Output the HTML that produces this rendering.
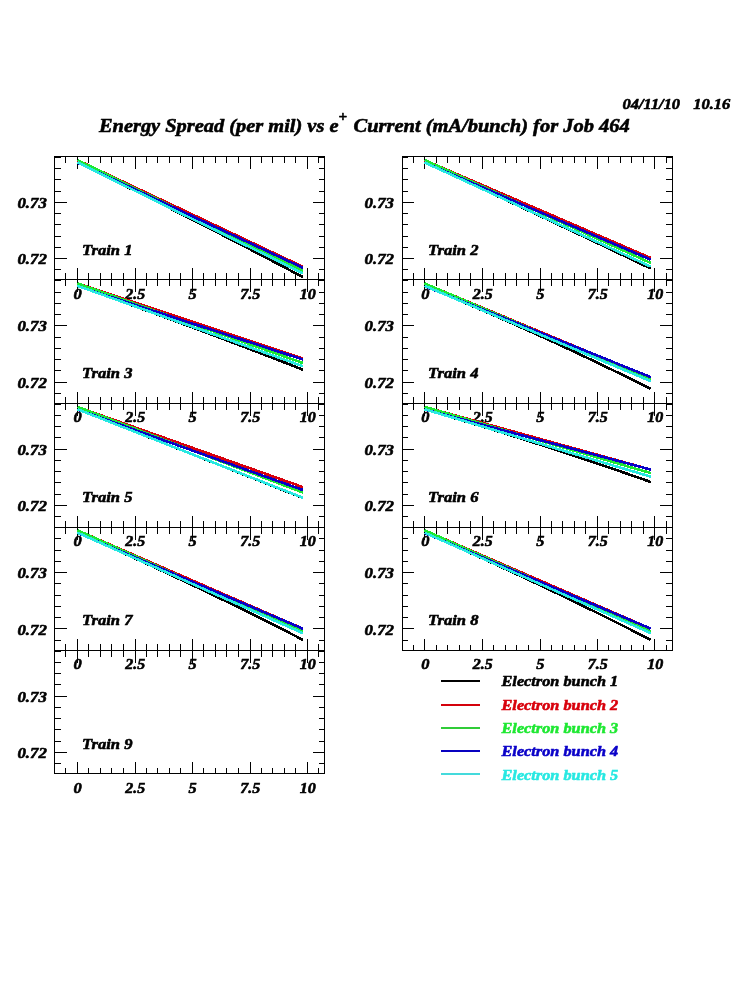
<!DOCTYPE html><html><head><meta charset="utf-8"><title>Energy Spread</title>
<style>html,body{margin:0;padding:0;background:#fff}body{width:750px;height:1000px;overflow:hidden}svg{display:block;will-change:transform;opacity:0.999}text{font-family:"Liberation Serif",serif;font-weight:bold;font-style:italic;fill:#000;stroke:#000;stroke-width:0.6px;stroke-linejoin:round}.t16{font-size:15.5px}.t20{font-size:19.7px}.t12{font-size:12px}</style></head><body>
<svg width="750" height="1000" viewBox="0 0 750 1000">
<rect width="750" height="1000" fill="#fff"/>
<g>
<text class="t16" text-anchor="end" x="46.8" y="207.9" textLength="29.4" lengthAdjust="spacingAndGlyphs">0.73</text>
<text class="t16" text-anchor="end" x="46.8" y="264.1" textLength="29.4" lengthAdjust="spacingAndGlyphs">0.72</text>
<text class="t16" x="82" y="254.8" textLength="50.5" lengthAdjust="spacingAndGlyphs">Train 1</text>
<text class="t16" text-anchor="middle" x="77.7" y="298.7" textLength="8.2" lengthAdjust="spacingAndGlyphs">0</text>
<text class="t16" text-anchor="middle" x="135.2" y="298.7" textLength="19.9" lengthAdjust="spacingAndGlyphs">2.5</text>
<text class="t16" text-anchor="middle" x="192.7" y="298.7" textLength="8.2" lengthAdjust="spacingAndGlyphs">5</text>
<text class="t16" text-anchor="middle" x="250.2" y="298.7" textLength="20.1" lengthAdjust="spacingAndGlyphs">7.5</text>
<text class="t16" text-anchor="middle" x="307.7" y="298.7" textLength="16.0" lengthAdjust="spacingAndGlyphs">10</text>
<text class="t16" text-anchor="end" x="394.0" y="207.9" textLength="29.4" lengthAdjust="spacingAndGlyphs">0.73</text>
<text class="t16" text-anchor="end" x="394.0" y="264.1" textLength="29.4" lengthAdjust="spacingAndGlyphs">0.72</text>
<text class="t16" x="428" y="254.8" textLength="50.5" lengthAdjust="spacingAndGlyphs">Train 2</text>
<text class="t16" text-anchor="middle" x="425.3" y="298.7" textLength="8.2" lengthAdjust="spacingAndGlyphs">0</text>
<text class="t16" text-anchor="middle" x="482.8" y="298.7" textLength="19.9" lengthAdjust="spacingAndGlyphs">2.5</text>
<text class="t16" text-anchor="middle" x="540.3" y="298.7" textLength="8.2" lengthAdjust="spacingAndGlyphs">5</text>
<text class="t16" text-anchor="middle" x="597.8" y="298.7" textLength="20.1" lengthAdjust="spacingAndGlyphs">7.5</text>
<text class="t16" text-anchor="middle" x="655.3" y="298.7" textLength="16.0" lengthAdjust="spacingAndGlyphs">10</text>
<text class="t16" text-anchor="end" x="46.8" y="331.4" textLength="29.4" lengthAdjust="spacingAndGlyphs">0.73</text>
<text class="t16" text-anchor="end" x="46.8" y="387.6" textLength="29.4" lengthAdjust="spacingAndGlyphs">0.72</text>
<text class="t16" x="82" y="378.2" textLength="50.5" lengthAdjust="spacingAndGlyphs">Train 3</text>
<text class="t16" text-anchor="middle" x="77.7" y="422.1" textLength="8.2" lengthAdjust="spacingAndGlyphs">0</text>
<text class="t16" text-anchor="middle" x="135.2" y="422.1" textLength="19.9" lengthAdjust="spacingAndGlyphs">2.5</text>
<text class="t16" text-anchor="middle" x="192.7" y="422.1" textLength="8.2" lengthAdjust="spacingAndGlyphs">5</text>
<text class="t16" text-anchor="middle" x="250.2" y="422.1" textLength="20.1" lengthAdjust="spacingAndGlyphs">7.5</text>
<text class="t16" text-anchor="middle" x="307.7" y="422.1" textLength="16.0" lengthAdjust="spacingAndGlyphs">10</text>
<text class="t16" text-anchor="end" x="394.0" y="331.4" textLength="29.4" lengthAdjust="spacingAndGlyphs">0.73</text>
<text class="t16" text-anchor="end" x="394.0" y="387.6" textLength="29.4" lengthAdjust="spacingAndGlyphs">0.72</text>
<text class="t16" x="428" y="378.2" textLength="50.5" lengthAdjust="spacingAndGlyphs">Train 4</text>
<text class="t16" text-anchor="middle" x="425.3" y="422.1" textLength="8.2" lengthAdjust="spacingAndGlyphs">0</text>
<text class="t16" text-anchor="middle" x="482.8" y="422.1" textLength="19.9" lengthAdjust="spacingAndGlyphs">2.5</text>
<text class="t16" text-anchor="middle" x="540.3" y="422.1" textLength="8.2" lengthAdjust="spacingAndGlyphs">5</text>
<text class="t16" text-anchor="middle" x="597.8" y="422.1" textLength="20.1" lengthAdjust="spacingAndGlyphs">7.5</text>
<text class="t16" text-anchor="middle" x="655.3" y="422.1" textLength="16.0" lengthAdjust="spacingAndGlyphs">10</text>
<text class="t16" text-anchor="end" x="46.8" y="454.8" textLength="29.4" lengthAdjust="spacingAndGlyphs">0.73</text>
<text class="t16" text-anchor="end" x="46.8" y="511.0" textLength="29.4" lengthAdjust="spacingAndGlyphs">0.72</text>
<text class="t16" x="82" y="501.7" textLength="50.5" lengthAdjust="spacingAndGlyphs">Train 5</text>
<text class="t16" text-anchor="middle" x="77.7" y="545.5" textLength="8.2" lengthAdjust="spacingAndGlyphs">0</text>
<text class="t16" text-anchor="middle" x="135.2" y="545.5" textLength="19.9" lengthAdjust="spacingAndGlyphs">2.5</text>
<text class="t16" text-anchor="middle" x="192.7" y="545.5" textLength="8.2" lengthAdjust="spacingAndGlyphs">5</text>
<text class="t16" text-anchor="middle" x="250.2" y="545.5" textLength="20.1" lengthAdjust="spacingAndGlyphs">7.5</text>
<text class="t16" text-anchor="middle" x="307.7" y="545.5" textLength="16.0" lengthAdjust="spacingAndGlyphs">10</text>
<text class="t16" text-anchor="end" x="394.0" y="454.8" textLength="29.4" lengthAdjust="spacingAndGlyphs">0.73</text>
<text class="t16" text-anchor="end" x="394.0" y="511.0" textLength="29.4" lengthAdjust="spacingAndGlyphs">0.72</text>
<text class="t16" x="428" y="501.7" textLength="50.5" lengthAdjust="spacingAndGlyphs">Train 6</text>
<text class="t16" text-anchor="middle" x="425.3" y="545.5" textLength="8.2" lengthAdjust="spacingAndGlyphs">0</text>
<text class="t16" text-anchor="middle" x="482.8" y="545.5" textLength="19.9" lengthAdjust="spacingAndGlyphs">2.5</text>
<text class="t16" text-anchor="middle" x="540.3" y="545.5" textLength="8.2" lengthAdjust="spacingAndGlyphs">5</text>
<text class="t16" text-anchor="middle" x="597.8" y="545.5" textLength="20.1" lengthAdjust="spacingAndGlyphs">7.5</text>
<text class="t16" text-anchor="middle" x="655.3" y="545.5" textLength="16.0" lengthAdjust="spacingAndGlyphs">10</text>
<text class="t16" text-anchor="end" x="46.8" y="578.2" textLength="29.4" lengthAdjust="spacingAndGlyphs">0.73</text>
<text class="t16" text-anchor="end" x="46.8" y="634.5" textLength="29.4" lengthAdjust="spacingAndGlyphs">0.72</text>
<text class="t16" x="82" y="625.1" textLength="50.5" lengthAdjust="spacingAndGlyphs">Train 7</text>
<text class="t16" text-anchor="middle" x="77.7" y="669.0" textLength="8.2" lengthAdjust="spacingAndGlyphs">0</text>
<text class="t16" text-anchor="middle" x="135.2" y="669.0" textLength="19.9" lengthAdjust="spacingAndGlyphs">2.5</text>
<text class="t16" text-anchor="middle" x="192.7" y="669.0" textLength="8.2" lengthAdjust="spacingAndGlyphs">5</text>
<text class="t16" text-anchor="middle" x="250.2" y="669.0" textLength="20.1" lengthAdjust="spacingAndGlyphs">7.5</text>
<text class="t16" text-anchor="middle" x="307.7" y="669.0" textLength="16.0" lengthAdjust="spacingAndGlyphs">10</text>
<text class="t16" text-anchor="end" x="394.0" y="578.2" textLength="29.4" lengthAdjust="spacingAndGlyphs">0.73</text>
<text class="t16" text-anchor="end" x="394.0" y="634.5" textLength="29.4" lengthAdjust="spacingAndGlyphs">0.72</text>
<text class="t16" x="428" y="625.1" textLength="50.5" lengthAdjust="spacingAndGlyphs">Train 8</text>
<text class="t16" text-anchor="middle" x="425.3" y="669.0" textLength="8.2" lengthAdjust="spacingAndGlyphs">0</text>
<text class="t16" text-anchor="middle" x="482.8" y="669.0" textLength="19.9" lengthAdjust="spacingAndGlyphs">2.5</text>
<text class="t16" text-anchor="middle" x="540.3" y="669.0" textLength="8.2" lengthAdjust="spacingAndGlyphs">5</text>
<text class="t16" text-anchor="middle" x="597.8" y="669.0" textLength="20.1" lengthAdjust="spacingAndGlyphs">7.5</text>
<text class="t16" text-anchor="middle" x="655.3" y="669.0" textLength="16.0" lengthAdjust="spacingAndGlyphs">10</text>
<text class="t16" text-anchor="end" x="46.8" y="701.7" textLength="29.4" lengthAdjust="spacingAndGlyphs">0.73</text>
<text class="t16" text-anchor="end" x="46.8" y="757.9" textLength="29.4" lengthAdjust="spacingAndGlyphs">0.72</text>
<text class="t16" x="82" y="748.6" textLength="50.5" lengthAdjust="spacingAndGlyphs">Train 9</text>
<text class="t16" text-anchor="middle" x="77.7" y="792.5" textLength="8.2" lengthAdjust="spacingAndGlyphs">0</text>
<text class="t16" text-anchor="middle" x="135.2" y="792.5" textLength="19.9" lengthAdjust="spacingAndGlyphs">2.5</text>
<text class="t16" text-anchor="middle" x="192.7" y="792.5" textLength="8.2" lengthAdjust="spacingAndGlyphs">5</text>
<text class="t16" text-anchor="middle" x="250.2" y="792.5" textLength="20.1" lengthAdjust="spacingAndGlyphs">7.5</text>
<text class="t16" text-anchor="middle" x="307.7" y="792.5" textLength="16.0" lengthAdjust="spacingAndGlyphs">10</text>
</g>
<g shape-rendering="crispEdges">
<rect x="54" y="156" width="271" height="1" fill="#000"/>
<rect x="54" y="279" width="271" height="1" fill="#000"/>
<rect x="54" y="156" width="1" height="124" fill="#000"/>
<rect x="324" y="156" width="1" height="124" fill="#000"/>
<rect x="54" y="157" width="7" height="1" fill="#000"/>
<rect x="319" y="157" width="6" height="1" fill="#000"/>
<rect x="54" y="168" width="7" height="1" fill="#000"/>
<rect x="319" y="168" width="6" height="1" fill="#000"/>
<rect x="54" y="179" width="7" height="1" fill="#000"/>
<rect x="319" y="179" width="6" height="1" fill="#000"/>
<rect x="54" y="191" width="7" height="1" fill="#000"/>
<rect x="319" y="191" width="6" height="1" fill="#000"/>
<rect x="54" y="202" width="13" height="1" fill="#000"/>
<rect x="313" y="202" width="12" height="1" fill="#000"/>
<rect x="54" y="213" width="7" height="1" fill="#000"/>
<rect x="319" y="213" width="6" height="1" fill="#000"/>
<rect x="54" y="224" width="7" height="1" fill="#000"/>
<rect x="319" y="224" width="6" height="1" fill="#000"/>
<rect x="54" y="236" width="7" height="1" fill="#000"/>
<rect x="319" y="236" width="6" height="1" fill="#000"/>
<rect x="54" y="247" width="7" height="1" fill="#000"/>
<rect x="319" y="247" width="6" height="1" fill="#000"/>
<rect x="54" y="258" width="13" height="1" fill="#000"/>
<rect x="313" y="258" width="12" height="1" fill="#000"/>
<rect x="54" y="269" width="7" height="1" fill="#000"/>
<rect x="319" y="269" width="6" height="1" fill="#000"/>
<rect x="65" y="156" width="1" height="7" fill="#000"/>
<rect x="65" y="273" width="1" height="7" fill="#000"/>
<rect x="77" y="156" width="1" height="13" fill="#000"/>
<rect x="77" y="268" width="1" height="12" fill="#000"/>
<rect x="88" y="156" width="1" height="7" fill="#000"/>
<rect x="88" y="273" width="1" height="7" fill="#000"/>
<rect x="100" y="156" width="1" height="7" fill="#000"/>
<rect x="100" y="273" width="1" height="7" fill="#000"/>
<rect x="111" y="156" width="1" height="7" fill="#000"/>
<rect x="111" y="273" width="1" height="7" fill="#000"/>
<rect x="123" y="156" width="1" height="7" fill="#000"/>
<rect x="123" y="273" width="1" height="7" fill="#000"/>
<rect x="135" y="156" width="1" height="13" fill="#000"/>
<rect x="135" y="268" width="1" height="12" fill="#000"/>
<rect x="146" y="156" width="1" height="7" fill="#000"/>
<rect x="146" y="273" width="1" height="7" fill="#000"/>
<rect x="157" y="156" width="1" height="7" fill="#000"/>
<rect x="157" y="273" width="1" height="7" fill="#000"/>
<rect x="169" y="156" width="1" height="7" fill="#000"/>
<rect x="169" y="273" width="1" height="7" fill="#000"/>
<rect x="180" y="156" width="1" height="7" fill="#000"/>
<rect x="180" y="273" width="1" height="7" fill="#000"/>
<rect x="192" y="156" width="1" height="13" fill="#000"/>
<rect x="192" y="268" width="1" height="12" fill="#000"/>
<rect x="203" y="156" width="1" height="7" fill="#000"/>
<rect x="203" y="273" width="1" height="7" fill="#000"/>
<rect x="215" y="156" width="1" height="7" fill="#000"/>
<rect x="215" y="273" width="1" height="7" fill="#000"/>
<rect x="226" y="156" width="1" height="7" fill="#000"/>
<rect x="226" y="273" width="1" height="7" fill="#000"/>
<rect x="238" y="156" width="1" height="7" fill="#000"/>
<rect x="238" y="273" width="1" height="7" fill="#000"/>
<rect x="250" y="156" width="1" height="13" fill="#000"/>
<rect x="250" y="268" width="1" height="12" fill="#000"/>
<rect x="261" y="156" width="1" height="7" fill="#000"/>
<rect x="261" y="273" width="1" height="7" fill="#000"/>
<rect x="272" y="156" width="1" height="7" fill="#000"/>
<rect x="272" y="273" width="1" height="7" fill="#000"/>
<rect x="284" y="156" width="1" height="7" fill="#000"/>
<rect x="284" y="273" width="1" height="7" fill="#000"/>
<rect x="295" y="156" width="1" height="7" fill="#000"/>
<rect x="295" y="273" width="1" height="7" fill="#000"/>
<rect x="307" y="156" width="1" height="13" fill="#000"/>
<rect x="307" y="268" width="1" height="12" fill="#000"/>
<rect x="318" y="156" width="1" height="7" fill="#000"/>
<rect x="318" y="273" width="1" height="7" fill="#000"/>
<polyline points="77.40,162.40 111.22,179.03 130.39,188.50 149.56,198.04 168.73,207.66 187.89,217.35 207.06,227.12 226.23,236.96 245.40,246.88 264.56,256.88 283.73,266.95 302.90,277.10" fill="none" stroke="#000000" stroke-width="2.6"/>
<line x1="77.4" y1="160.1" x2="302.9" y2="266.8" stroke="#d8000c" stroke-width="2.6"/>
<line x1="77.4" y1="160.0" x2="302.9" y2="270.8" stroke="#1ee832" stroke-width="2.6"/>
<line x1="77.4" y1="162.6" x2="302.9" y2="267.8" stroke="#0a00c8" stroke-width="2.6"/>
<line x1="77.4" y1="162.4" x2="302.9" y2="273.3" stroke="#28e8e2" stroke-width="2.6"/>
<rect x="402" y="156" width="271" height="1" fill="#000"/>
<rect x="402" y="279" width="271" height="1" fill="#000"/>
<rect x="402" y="156" width="1" height="124" fill="#000"/>
<rect x="672" y="156" width="1" height="124" fill="#000"/>
<rect x="402" y="157" width="6" height="1" fill="#000"/>
<rect x="666" y="157" width="7" height="1" fill="#000"/>
<rect x="402" y="168" width="6" height="1" fill="#000"/>
<rect x="666" y="168" width="7" height="1" fill="#000"/>
<rect x="402" y="179" width="6" height="1" fill="#000"/>
<rect x="666" y="179" width="7" height="1" fill="#000"/>
<rect x="402" y="191" width="6" height="1" fill="#000"/>
<rect x="666" y="191" width="7" height="1" fill="#000"/>
<rect x="402" y="202" width="12" height="1" fill="#000"/>
<rect x="660" y="202" width="13" height="1" fill="#000"/>
<rect x="402" y="213" width="6" height="1" fill="#000"/>
<rect x="666" y="213" width="7" height="1" fill="#000"/>
<rect x="402" y="224" width="6" height="1" fill="#000"/>
<rect x="666" y="224" width="7" height="1" fill="#000"/>
<rect x="402" y="236" width="6" height="1" fill="#000"/>
<rect x="666" y="236" width="7" height="1" fill="#000"/>
<rect x="402" y="247" width="6" height="1" fill="#000"/>
<rect x="666" y="247" width="7" height="1" fill="#000"/>
<rect x="402" y="258" width="12" height="1" fill="#000"/>
<rect x="660" y="258" width="13" height="1" fill="#000"/>
<rect x="402" y="269" width="6" height="1" fill="#000"/>
<rect x="666" y="269" width="7" height="1" fill="#000"/>
<rect x="413" y="156" width="1" height="7" fill="#000"/>
<rect x="413" y="273" width="1" height="7" fill="#000"/>
<rect x="424" y="156" width="1" height="13" fill="#000"/>
<rect x="424" y="268" width="1" height="12" fill="#000"/>
<rect x="436" y="156" width="1" height="7" fill="#000"/>
<rect x="436" y="273" width="1" height="7" fill="#000"/>
<rect x="447" y="156" width="1" height="7" fill="#000"/>
<rect x="447" y="273" width="1" height="7" fill="#000"/>
<rect x="459" y="156" width="1" height="7" fill="#000"/>
<rect x="459" y="273" width="1" height="7" fill="#000"/>
<rect x="470" y="156" width="1" height="7" fill="#000"/>
<rect x="470" y="273" width="1" height="7" fill="#000"/>
<rect x="482" y="156" width="1" height="13" fill="#000"/>
<rect x="482" y="268" width="1" height="12" fill="#000"/>
<rect x="493" y="156" width="1" height="7" fill="#000"/>
<rect x="493" y="273" width="1" height="7" fill="#000"/>
<rect x="505" y="156" width="1" height="7" fill="#000"/>
<rect x="505" y="273" width="1" height="7" fill="#000"/>
<rect x="516" y="156" width="1" height="7" fill="#000"/>
<rect x="516" y="273" width="1" height="7" fill="#000"/>
<rect x="528" y="156" width="1" height="7" fill="#000"/>
<rect x="528" y="273" width="1" height="7" fill="#000"/>
<rect x="540" y="156" width="1" height="13" fill="#000"/>
<rect x="540" y="268" width="1" height="12" fill="#000"/>
<rect x="551" y="156" width="1" height="7" fill="#000"/>
<rect x="551" y="273" width="1" height="7" fill="#000"/>
<rect x="562" y="156" width="1" height="7" fill="#000"/>
<rect x="562" y="273" width="1" height="7" fill="#000"/>
<rect x="574" y="156" width="1" height="7" fill="#000"/>
<rect x="574" y="273" width="1" height="7" fill="#000"/>
<rect x="585" y="156" width="1" height="7" fill="#000"/>
<rect x="585" y="273" width="1" height="7" fill="#000"/>
<rect x="597" y="156" width="1" height="13" fill="#000"/>
<rect x="597" y="268" width="1" height="12" fill="#000"/>
<rect x="608" y="156" width="1" height="7" fill="#000"/>
<rect x="608" y="273" width="1" height="7" fill="#000"/>
<rect x="620" y="156" width="1" height="7" fill="#000"/>
<rect x="620" y="273" width="1" height="7" fill="#000"/>
<rect x="631" y="156" width="1" height="7" fill="#000"/>
<rect x="631" y="273" width="1" height="7" fill="#000"/>
<rect x="643" y="156" width="1" height="7" fill="#000"/>
<rect x="643" y="273" width="1" height="7" fill="#000"/>
<rect x="654" y="156" width="1" height="13" fill="#000"/>
<rect x="654" y="268" width="1" height="12" fill="#000"/>
<rect x="666" y="156" width="1" height="7" fill="#000"/>
<rect x="666" y="273" width="1" height="7" fill="#000"/>
<polyline points="424.50,162.40 458.44,178.03 477.68,186.91 496.92,195.82 516.15,204.78 535.39,213.78 554.62,222.81 573.86,231.89 593.09,241.01 612.33,250.17 631.56,259.36 650.80,268.60" fill="none" stroke="#000000" stroke-width="2.6"/>
<line x1="424.5" y1="160.1" x2="650.8" y2="258.0" stroke="#d8000c" stroke-width="2.6"/>
<line x1="424.5" y1="160.0" x2="650.8" y2="263.0" stroke="#1ee832" stroke-width="2.6"/>
<line x1="424.5" y1="162.6" x2="650.8" y2="259.7" stroke="#0a00c8" stroke-width="2.6"/>
<line x1="424.5" y1="162.4" x2="650.8" y2="266.6" stroke="#28e8e2" stroke-width="2.6"/>
<rect x="54" y="279" width="271" height="1" fill="#000"/>
<rect x="54" y="403" width="271" height="1" fill="#000"/>
<rect x="54" y="279" width="1" height="125" fill="#000"/>
<rect x="324" y="279" width="1" height="125" fill="#000"/>
<rect x="54" y="280" width="7" height="1" fill="#000"/>
<rect x="319" y="280" width="6" height="1" fill="#000"/>
<rect x="54" y="292" width="7" height="1" fill="#000"/>
<rect x="319" y="292" width="6" height="1" fill="#000"/>
<rect x="54" y="303" width="7" height="1" fill="#000"/>
<rect x="319" y="303" width="6" height="1" fill="#000"/>
<rect x="54" y="314" width="7" height="1" fill="#000"/>
<rect x="319" y="314" width="6" height="1" fill="#000"/>
<rect x="54" y="325" width="13" height="1" fill="#000"/>
<rect x="313" y="325" width="12" height="1" fill="#000"/>
<rect x="54" y="337" width="7" height="1" fill="#000"/>
<rect x="319" y="337" width="6" height="1" fill="#000"/>
<rect x="54" y="348" width="7" height="1" fill="#000"/>
<rect x="319" y="348" width="6" height="1" fill="#000"/>
<rect x="54" y="359" width="7" height="1" fill="#000"/>
<rect x="319" y="359" width="6" height="1" fill="#000"/>
<rect x="54" y="370" width="7" height="1" fill="#000"/>
<rect x="319" y="370" width="6" height="1" fill="#000"/>
<rect x="54" y="382" width="13" height="1" fill="#000"/>
<rect x="313" y="382" width="12" height="1" fill="#000"/>
<rect x="54" y="393" width="7" height="1" fill="#000"/>
<rect x="319" y="393" width="6" height="1" fill="#000"/>
<rect x="65" y="279" width="1" height="7" fill="#000"/>
<rect x="65" y="397" width="1" height="7" fill="#000"/>
<rect x="77" y="279" width="1" height="13" fill="#000"/>
<rect x="77" y="392" width="1" height="12" fill="#000"/>
<rect x="88" y="279" width="1" height="7" fill="#000"/>
<rect x="88" y="397" width="1" height="7" fill="#000"/>
<rect x="100" y="279" width="1" height="7" fill="#000"/>
<rect x="100" y="397" width="1" height="7" fill="#000"/>
<rect x="111" y="279" width="1" height="7" fill="#000"/>
<rect x="111" y="397" width="1" height="7" fill="#000"/>
<rect x="123" y="279" width="1" height="7" fill="#000"/>
<rect x="123" y="397" width="1" height="7" fill="#000"/>
<rect x="135" y="279" width="1" height="13" fill="#000"/>
<rect x="135" y="392" width="1" height="12" fill="#000"/>
<rect x="146" y="279" width="1" height="7" fill="#000"/>
<rect x="146" y="397" width="1" height="7" fill="#000"/>
<rect x="157" y="279" width="1" height="7" fill="#000"/>
<rect x="157" y="397" width="1" height="7" fill="#000"/>
<rect x="169" y="279" width="1" height="7" fill="#000"/>
<rect x="169" y="397" width="1" height="7" fill="#000"/>
<rect x="180" y="279" width="1" height="7" fill="#000"/>
<rect x="180" y="397" width="1" height="7" fill="#000"/>
<rect x="192" y="279" width="1" height="13" fill="#000"/>
<rect x="192" y="392" width="1" height="12" fill="#000"/>
<rect x="203" y="279" width="1" height="7" fill="#000"/>
<rect x="203" y="397" width="1" height="7" fill="#000"/>
<rect x="215" y="279" width="1" height="7" fill="#000"/>
<rect x="215" y="397" width="1" height="7" fill="#000"/>
<rect x="226" y="279" width="1" height="7" fill="#000"/>
<rect x="226" y="397" width="1" height="7" fill="#000"/>
<rect x="238" y="279" width="1" height="7" fill="#000"/>
<rect x="238" y="397" width="1" height="7" fill="#000"/>
<rect x="250" y="279" width="1" height="13" fill="#000"/>
<rect x="250" y="392" width="1" height="12" fill="#000"/>
<rect x="261" y="279" width="1" height="7" fill="#000"/>
<rect x="261" y="397" width="1" height="7" fill="#000"/>
<rect x="272" y="279" width="1" height="7" fill="#000"/>
<rect x="272" y="397" width="1" height="7" fill="#000"/>
<rect x="284" y="279" width="1" height="7" fill="#000"/>
<rect x="284" y="397" width="1" height="7" fill="#000"/>
<rect x="295" y="279" width="1" height="7" fill="#000"/>
<rect x="295" y="397" width="1" height="7" fill="#000"/>
<rect x="307" y="279" width="1" height="13" fill="#000"/>
<rect x="307" y="392" width="1" height="12" fill="#000"/>
<rect x="318" y="279" width="1" height="7" fill="#000"/>
<rect x="318" y="397" width="1" height="7" fill="#000"/>
<polyline points="77.40,285.80 111.22,297.86 130.39,304.73 149.56,311.67 168.73,318.68 187.89,325.76 207.06,332.91 226.23,340.12 245.40,347.41 264.56,354.77 283.73,362.20 302.90,369.70" fill="none" stroke="#000000" stroke-width="2.6"/>
<line x1="77.4" y1="283.5" x2="302.9" y2="358.4" stroke="#d8000c" stroke-width="2.6"/>
<line x1="77.4" y1="283.4" x2="302.9" y2="363.0" stroke="#1ee832" stroke-width="2.6"/>
<line x1="77.4" y1="286.1" x2="302.9" y2="359.5" stroke="#0a00c8" stroke-width="2.6"/>
<line x1="77.4" y1="285.8" x2="302.9" y2="366.2" stroke="#28e8e2" stroke-width="2.6"/>
<rect x="402" y="279" width="271" height="1" fill="#000"/>
<rect x="402" y="403" width="271" height="1" fill="#000"/>
<rect x="402" y="279" width="1" height="125" fill="#000"/>
<rect x="672" y="279" width="1" height="125" fill="#000"/>
<rect x="402" y="280" width="6" height="1" fill="#000"/>
<rect x="666" y="280" width="7" height="1" fill="#000"/>
<rect x="402" y="292" width="6" height="1" fill="#000"/>
<rect x="666" y="292" width="7" height="1" fill="#000"/>
<rect x="402" y="303" width="6" height="1" fill="#000"/>
<rect x="666" y="303" width="7" height="1" fill="#000"/>
<rect x="402" y="314" width="6" height="1" fill="#000"/>
<rect x="666" y="314" width="7" height="1" fill="#000"/>
<rect x="402" y="325" width="12" height="1" fill="#000"/>
<rect x="660" y="325" width="13" height="1" fill="#000"/>
<rect x="402" y="337" width="6" height="1" fill="#000"/>
<rect x="666" y="337" width="7" height="1" fill="#000"/>
<rect x="402" y="348" width="6" height="1" fill="#000"/>
<rect x="666" y="348" width="7" height="1" fill="#000"/>
<rect x="402" y="359" width="6" height="1" fill="#000"/>
<rect x="666" y="359" width="7" height="1" fill="#000"/>
<rect x="402" y="370" width="6" height="1" fill="#000"/>
<rect x="666" y="370" width="7" height="1" fill="#000"/>
<rect x="402" y="382" width="12" height="1" fill="#000"/>
<rect x="660" y="382" width="13" height="1" fill="#000"/>
<rect x="402" y="393" width="6" height="1" fill="#000"/>
<rect x="666" y="393" width="7" height="1" fill="#000"/>
<rect x="413" y="279" width="1" height="7" fill="#000"/>
<rect x="413" y="397" width="1" height="7" fill="#000"/>
<rect x="424" y="279" width="1" height="13" fill="#000"/>
<rect x="424" y="392" width="1" height="12" fill="#000"/>
<rect x="436" y="279" width="1" height="7" fill="#000"/>
<rect x="436" y="397" width="1" height="7" fill="#000"/>
<rect x="447" y="279" width="1" height="7" fill="#000"/>
<rect x="447" y="397" width="1" height="7" fill="#000"/>
<rect x="459" y="279" width="1" height="7" fill="#000"/>
<rect x="459" y="397" width="1" height="7" fill="#000"/>
<rect x="470" y="279" width="1" height="7" fill="#000"/>
<rect x="470" y="397" width="1" height="7" fill="#000"/>
<rect x="482" y="279" width="1" height="13" fill="#000"/>
<rect x="482" y="392" width="1" height="12" fill="#000"/>
<rect x="493" y="279" width="1" height="7" fill="#000"/>
<rect x="493" y="397" width="1" height="7" fill="#000"/>
<rect x="505" y="279" width="1" height="7" fill="#000"/>
<rect x="505" y="397" width="1" height="7" fill="#000"/>
<rect x="516" y="279" width="1" height="7" fill="#000"/>
<rect x="516" y="397" width="1" height="7" fill="#000"/>
<rect x="528" y="279" width="1" height="7" fill="#000"/>
<rect x="528" y="397" width="1" height="7" fill="#000"/>
<rect x="540" y="279" width="1" height="13" fill="#000"/>
<rect x="540" y="392" width="1" height="12" fill="#000"/>
<rect x="551" y="279" width="1" height="7" fill="#000"/>
<rect x="551" y="397" width="1" height="7" fill="#000"/>
<rect x="562" y="279" width="1" height="7" fill="#000"/>
<rect x="562" y="397" width="1" height="7" fill="#000"/>
<rect x="574" y="279" width="1" height="7" fill="#000"/>
<rect x="574" y="397" width="1" height="7" fill="#000"/>
<rect x="585" y="279" width="1" height="7" fill="#000"/>
<rect x="585" y="397" width="1" height="7" fill="#000"/>
<rect x="597" y="279" width="1" height="13" fill="#000"/>
<rect x="597" y="392" width="1" height="12" fill="#000"/>
<rect x="608" y="279" width="1" height="7" fill="#000"/>
<rect x="608" y="397" width="1" height="7" fill="#000"/>
<rect x="620" y="279" width="1" height="7" fill="#000"/>
<rect x="620" y="397" width="1" height="7" fill="#000"/>
<rect x="631" y="279" width="1" height="7" fill="#000"/>
<rect x="631" y="397" width="1" height="7" fill="#000"/>
<rect x="643" y="279" width="1" height="7" fill="#000"/>
<rect x="643" y="397" width="1" height="7" fill="#000"/>
<rect x="654" y="279" width="1" height="13" fill="#000"/>
<rect x="654" y="392" width="1" height="12" fill="#000"/>
<rect x="666" y="279" width="1" height="7" fill="#000"/>
<rect x="666" y="397" width="1" height="7" fill="#000"/>
<polyline points="424.50,285.80 458.44,300.11 477.68,308.30 496.92,316.64 516.15,325.13 535.39,333.78 554.62,342.58 573.86,351.54 593.09,360.65 612.33,369.91 631.56,379.33 650.80,388.90" fill="none" stroke="#000000" stroke-width="2.6"/>
<line x1="424.5" y1="283.5" x2="650.8" y2="378.0" stroke="#d8000c" stroke-width="2.6"/>
<line x1="424.5" y1="283.4" x2="650.8" y2="379.8" stroke="#1ee832" stroke-width="2.6"/>
<line x1="424.5" y1="286.1" x2="650.8" y2="377.1" stroke="#0a00c8" stroke-width="2.6"/>
<line x1="424.5" y1="285.8" x2="650.8" y2="381.2" stroke="#28e8e2" stroke-width="2.6"/>
<rect x="54" y="403" width="271" height="1" fill="#000"/>
<rect x="54" y="527" width="271" height="1" fill="#000"/>
<rect x="54" y="403" width="1" height="125" fill="#000"/>
<rect x="324" y="403" width="1" height="125" fill="#000"/>
<rect x="54" y="404" width="7" height="1" fill="#000"/>
<rect x="319" y="404" width="6" height="1" fill="#000"/>
<rect x="54" y="415" width="7" height="1" fill="#000"/>
<rect x="319" y="415" width="6" height="1" fill="#000"/>
<rect x="54" y="426" width="7" height="1" fill="#000"/>
<rect x="319" y="426" width="6" height="1" fill="#000"/>
<rect x="54" y="437" width="7" height="1" fill="#000"/>
<rect x="319" y="437" width="6" height="1" fill="#000"/>
<rect x="54" y="449" width="13" height="1" fill="#000"/>
<rect x="313" y="449" width="12" height="1" fill="#000"/>
<rect x="54" y="460" width="7" height="1" fill="#000"/>
<rect x="319" y="460" width="6" height="1" fill="#000"/>
<rect x="54" y="471" width="7" height="1" fill="#000"/>
<rect x="319" y="471" width="6" height="1" fill="#000"/>
<rect x="54" y="482" width="7" height="1" fill="#000"/>
<rect x="319" y="482" width="6" height="1" fill="#000"/>
<rect x="54" y="494" width="7" height="1" fill="#000"/>
<rect x="319" y="494" width="6" height="1" fill="#000"/>
<rect x="54" y="505" width="13" height="1" fill="#000"/>
<rect x="313" y="505" width="12" height="1" fill="#000"/>
<rect x="54" y="516" width="7" height="1" fill="#000"/>
<rect x="319" y="516" width="6" height="1" fill="#000"/>
<rect x="65" y="403" width="1" height="7" fill="#000"/>
<rect x="65" y="521" width="1" height="7" fill="#000"/>
<rect x="77" y="403" width="1" height="13" fill="#000"/>
<rect x="77" y="516" width="1" height="12" fill="#000"/>
<rect x="88" y="403" width="1" height="7" fill="#000"/>
<rect x="88" y="521" width="1" height="7" fill="#000"/>
<rect x="100" y="403" width="1" height="7" fill="#000"/>
<rect x="100" y="521" width="1" height="7" fill="#000"/>
<rect x="111" y="403" width="1" height="7" fill="#000"/>
<rect x="111" y="521" width="1" height="7" fill="#000"/>
<rect x="123" y="403" width="1" height="7" fill="#000"/>
<rect x="123" y="521" width="1" height="7" fill="#000"/>
<rect x="135" y="403" width="1" height="13" fill="#000"/>
<rect x="135" y="516" width="1" height="12" fill="#000"/>
<rect x="146" y="403" width="1" height="7" fill="#000"/>
<rect x="146" y="521" width="1" height="7" fill="#000"/>
<rect x="157" y="403" width="1" height="7" fill="#000"/>
<rect x="157" y="521" width="1" height="7" fill="#000"/>
<rect x="169" y="403" width="1" height="7" fill="#000"/>
<rect x="169" y="521" width="1" height="7" fill="#000"/>
<rect x="180" y="403" width="1" height="7" fill="#000"/>
<rect x="180" y="521" width="1" height="7" fill="#000"/>
<rect x="192" y="403" width="1" height="13" fill="#000"/>
<rect x="192" y="516" width="1" height="12" fill="#000"/>
<rect x="203" y="403" width="1" height="7" fill="#000"/>
<rect x="203" y="521" width="1" height="7" fill="#000"/>
<rect x="215" y="403" width="1" height="7" fill="#000"/>
<rect x="215" y="521" width="1" height="7" fill="#000"/>
<rect x="226" y="403" width="1" height="7" fill="#000"/>
<rect x="226" y="521" width="1" height="7" fill="#000"/>
<rect x="238" y="403" width="1" height="7" fill="#000"/>
<rect x="238" y="521" width="1" height="7" fill="#000"/>
<rect x="250" y="403" width="1" height="13" fill="#000"/>
<rect x="250" y="516" width="1" height="12" fill="#000"/>
<rect x="261" y="403" width="1" height="7" fill="#000"/>
<rect x="261" y="521" width="1" height="7" fill="#000"/>
<rect x="272" y="403" width="1" height="7" fill="#000"/>
<rect x="272" y="521" width="1" height="7" fill="#000"/>
<rect x="284" y="403" width="1" height="7" fill="#000"/>
<rect x="284" y="521" width="1" height="7" fill="#000"/>
<rect x="295" y="403" width="1" height="7" fill="#000"/>
<rect x="295" y="521" width="1" height="7" fill="#000"/>
<rect x="307" y="403" width="1" height="13" fill="#000"/>
<rect x="307" y="516" width="1" height="12" fill="#000"/>
<rect x="318" y="403" width="1" height="7" fill="#000"/>
<rect x="318" y="521" width="1" height="7" fill="#000"/>
<polyline points="77.40,409.20 111.22,422.47 130.39,430.00 149.56,437.53 168.73,445.07 187.89,452.61 207.06,460.16 226.23,467.72 245.40,475.28 264.56,482.85 283.73,490.42 302.90,498.00" fill="none" stroke="#000000" stroke-width="2.6"/>
<line x1="77.4" y1="406.9" x2="302.9" y2="487.1" stroke="#d8000c" stroke-width="2.6"/>
<line x1="77.4" y1="406.8" x2="302.9" y2="492.5" stroke="#1ee832" stroke-width="2.6"/>
<line x1="77.4" y1="409.4" x2="302.9" y2="490.0" stroke="#0a00c8" stroke-width="2.6"/>
<line x1="77.4" y1="409.2" x2="302.9" y2="497.7" stroke="#28e8e2" stroke-width="2.6"/>
<rect x="402" y="403" width="271" height="1" fill="#000"/>
<rect x="402" y="527" width="271" height="1" fill="#000"/>
<rect x="402" y="403" width="1" height="125" fill="#000"/>
<rect x="672" y="403" width="1" height="125" fill="#000"/>
<rect x="402" y="404" width="6" height="1" fill="#000"/>
<rect x="666" y="404" width="7" height="1" fill="#000"/>
<rect x="402" y="415" width="6" height="1" fill="#000"/>
<rect x="666" y="415" width="7" height="1" fill="#000"/>
<rect x="402" y="426" width="6" height="1" fill="#000"/>
<rect x="666" y="426" width="7" height="1" fill="#000"/>
<rect x="402" y="437" width="6" height="1" fill="#000"/>
<rect x="666" y="437" width="7" height="1" fill="#000"/>
<rect x="402" y="449" width="12" height="1" fill="#000"/>
<rect x="660" y="449" width="13" height="1" fill="#000"/>
<rect x="402" y="460" width="6" height="1" fill="#000"/>
<rect x="666" y="460" width="7" height="1" fill="#000"/>
<rect x="402" y="471" width="6" height="1" fill="#000"/>
<rect x="666" y="471" width="7" height="1" fill="#000"/>
<rect x="402" y="482" width="6" height="1" fill="#000"/>
<rect x="666" y="482" width="7" height="1" fill="#000"/>
<rect x="402" y="494" width="6" height="1" fill="#000"/>
<rect x="666" y="494" width="7" height="1" fill="#000"/>
<rect x="402" y="505" width="12" height="1" fill="#000"/>
<rect x="660" y="505" width="13" height="1" fill="#000"/>
<rect x="402" y="516" width="6" height="1" fill="#000"/>
<rect x="666" y="516" width="7" height="1" fill="#000"/>
<rect x="413" y="403" width="1" height="7" fill="#000"/>
<rect x="413" y="521" width="1" height="7" fill="#000"/>
<rect x="424" y="403" width="1" height="13" fill="#000"/>
<rect x="424" y="516" width="1" height="12" fill="#000"/>
<rect x="436" y="403" width="1" height="7" fill="#000"/>
<rect x="436" y="521" width="1" height="7" fill="#000"/>
<rect x="447" y="403" width="1" height="7" fill="#000"/>
<rect x="447" y="521" width="1" height="7" fill="#000"/>
<rect x="459" y="403" width="1" height="7" fill="#000"/>
<rect x="459" y="521" width="1" height="7" fill="#000"/>
<rect x="470" y="403" width="1" height="7" fill="#000"/>
<rect x="470" y="521" width="1" height="7" fill="#000"/>
<rect x="482" y="403" width="1" height="13" fill="#000"/>
<rect x="482" y="516" width="1" height="12" fill="#000"/>
<rect x="493" y="403" width="1" height="7" fill="#000"/>
<rect x="493" y="521" width="1" height="7" fill="#000"/>
<rect x="505" y="403" width="1" height="7" fill="#000"/>
<rect x="505" y="521" width="1" height="7" fill="#000"/>
<rect x="516" y="403" width="1" height="7" fill="#000"/>
<rect x="516" y="521" width="1" height="7" fill="#000"/>
<rect x="528" y="403" width="1" height="7" fill="#000"/>
<rect x="528" y="521" width="1" height="7" fill="#000"/>
<rect x="540" y="403" width="1" height="13" fill="#000"/>
<rect x="540" y="516" width="1" height="12" fill="#000"/>
<rect x="551" y="403" width="1" height="7" fill="#000"/>
<rect x="551" y="521" width="1" height="7" fill="#000"/>
<rect x="562" y="403" width="1" height="7" fill="#000"/>
<rect x="562" y="521" width="1" height="7" fill="#000"/>
<rect x="574" y="403" width="1" height="7" fill="#000"/>
<rect x="574" y="521" width="1" height="7" fill="#000"/>
<rect x="585" y="403" width="1" height="7" fill="#000"/>
<rect x="585" y="521" width="1" height="7" fill="#000"/>
<rect x="597" y="403" width="1" height="13" fill="#000"/>
<rect x="597" y="516" width="1" height="12" fill="#000"/>
<rect x="608" y="403" width="1" height="7" fill="#000"/>
<rect x="608" y="521" width="1" height="7" fill="#000"/>
<rect x="620" y="403" width="1" height="7" fill="#000"/>
<rect x="620" y="521" width="1" height="7" fill="#000"/>
<rect x="631" y="403" width="1" height="7" fill="#000"/>
<rect x="631" y="521" width="1" height="7" fill="#000"/>
<rect x="643" y="403" width="1" height="7" fill="#000"/>
<rect x="643" y="521" width="1" height="7" fill="#000"/>
<rect x="654" y="403" width="1" height="13" fill="#000"/>
<rect x="654" y="516" width="1" height="12" fill="#000"/>
<rect x="666" y="403" width="1" height="7" fill="#000"/>
<rect x="666" y="521" width="1" height="7" fill="#000"/>
<polyline points="424.50,409.20 458.44,419.32 477.68,425.12 496.92,431.01 516.15,437.01 535.39,443.12 554.62,449.34 573.86,455.66 593.09,462.08 612.33,468.62 631.56,475.26 650.80,482.00" fill="none" stroke="#000000" stroke-width="2.6"/>
<line x1="424.5" y1="406.9" x2="650.8" y2="469.6" stroke="#d8000c" stroke-width="2.6"/>
<line x1="424.5" y1="406.8" x2="650.8" y2="473.1" stroke="#1ee832" stroke-width="2.6"/>
<line x1="424.5" y1="409.4" x2="650.8" y2="469.6" stroke="#0a00c8" stroke-width="2.6"/>
<line x1="424.5" y1="409.2" x2="650.8" y2="476.7" stroke="#28e8e2" stroke-width="2.6"/>
<rect x="54" y="527" width="271" height="1" fill="#000"/>
<rect x="54" y="650" width="271" height="1" fill="#000"/>
<rect x="54" y="527" width="1" height="124" fill="#000"/>
<rect x="324" y="527" width="1" height="124" fill="#000"/>
<rect x="54" y="527" width="7" height="1" fill="#000"/>
<rect x="319" y="527" width="6" height="1" fill="#000"/>
<rect x="54" y="538" width="7" height="1" fill="#000"/>
<rect x="319" y="538" width="6" height="1" fill="#000"/>
<rect x="54" y="550" width="7" height="1" fill="#000"/>
<rect x="319" y="550" width="6" height="1" fill="#000"/>
<rect x="54" y="561" width="7" height="1" fill="#000"/>
<rect x="319" y="561" width="6" height="1" fill="#000"/>
<rect x="54" y="572" width="13" height="1" fill="#000"/>
<rect x="313" y="572" width="12" height="1" fill="#000"/>
<rect x="54" y="583" width="7" height="1" fill="#000"/>
<rect x="319" y="583" width="6" height="1" fill="#000"/>
<rect x="54" y="595" width="7" height="1" fill="#000"/>
<rect x="319" y="595" width="6" height="1" fill="#000"/>
<rect x="54" y="606" width="7" height="1" fill="#000"/>
<rect x="319" y="606" width="6" height="1" fill="#000"/>
<rect x="54" y="617" width="7" height="1" fill="#000"/>
<rect x="319" y="617" width="6" height="1" fill="#000"/>
<rect x="54" y="628" width="13" height="1" fill="#000"/>
<rect x="313" y="628" width="12" height="1" fill="#000"/>
<rect x="54" y="640" width="7" height="1" fill="#000"/>
<rect x="319" y="640" width="6" height="1" fill="#000"/>
<rect x="65" y="527" width="1" height="7" fill="#000"/>
<rect x="65" y="644" width="1" height="7" fill="#000"/>
<rect x="77" y="527" width="1" height="13" fill="#000"/>
<rect x="77" y="639" width="1" height="12" fill="#000"/>
<rect x="88" y="527" width="1" height="7" fill="#000"/>
<rect x="88" y="644" width="1" height="7" fill="#000"/>
<rect x="100" y="527" width="1" height="7" fill="#000"/>
<rect x="100" y="644" width="1" height="7" fill="#000"/>
<rect x="111" y="527" width="1" height="7" fill="#000"/>
<rect x="111" y="644" width="1" height="7" fill="#000"/>
<rect x="123" y="527" width="1" height="7" fill="#000"/>
<rect x="123" y="644" width="1" height="7" fill="#000"/>
<rect x="135" y="527" width="1" height="13" fill="#000"/>
<rect x="135" y="639" width="1" height="12" fill="#000"/>
<rect x="146" y="527" width="1" height="7" fill="#000"/>
<rect x="146" y="644" width="1" height="7" fill="#000"/>
<rect x="157" y="527" width="1" height="7" fill="#000"/>
<rect x="157" y="644" width="1" height="7" fill="#000"/>
<rect x="169" y="527" width="1" height="7" fill="#000"/>
<rect x="169" y="644" width="1" height="7" fill="#000"/>
<rect x="180" y="527" width="1" height="7" fill="#000"/>
<rect x="180" y="644" width="1" height="7" fill="#000"/>
<rect x="192" y="527" width="1" height="13" fill="#000"/>
<rect x="192" y="639" width="1" height="12" fill="#000"/>
<rect x="203" y="527" width="1" height="7" fill="#000"/>
<rect x="203" y="644" width="1" height="7" fill="#000"/>
<rect x="215" y="527" width="1" height="7" fill="#000"/>
<rect x="215" y="644" width="1" height="7" fill="#000"/>
<rect x="226" y="527" width="1" height="7" fill="#000"/>
<rect x="226" y="644" width="1" height="7" fill="#000"/>
<rect x="238" y="527" width="1" height="7" fill="#000"/>
<rect x="238" y="644" width="1" height="7" fill="#000"/>
<rect x="250" y="527" width="1" height="13" fill="#000"/>
<rect x="250" y="639" width="1" height="12" fill="#000"/>
<rect x="261" y="527" width="1" height="7" fill="#000"/>
<rect x="261" y="644" width="1" height="7" fill="#000"/>
<rect x="272" y="527" width="1" height="7" fill="#000"/>
<rect x="272" y="644" width="1" height="7" fill="#000"/>
<rect x="284" y="527" width="1" height="7" fill="#000"/>
<rect x="284" y="644" width="1" height="7" fill="#000"/>
<rect x="295" y="527" width="1" height="7" fill="#000"/>
<rect x="295" y="644" width="1" height="7" fill="#000"/>
<rect x="307" y="527" width="1" height="13" fill="#000"/>
<rect x="307" y="639" width="1" height="12" fill="#000"/>
<rect x="318" y="527" width="1" height="7" fill="#000"/>
<rect x="318" y="644" width="1" height="7" fill="#000"/>
<polyline points="77.40,532.60 111.22,547.69 130.39,556.31 149.56,565.06 168.73,573.94 187.89,582.95 207.06,592.09 226.23,601.37 245.40,610.78 264.56,620.32 283.73,629.99 302.90,639.80" fill="none" stroke="#000000" stroke-width="2.6"/>
<line x1="77.4" y1="530.3" x2="302.9" y2="628.7" stroke="#d8000c" stroke-width="2.6"/>
<line x1="77.4" y1="530.2" x2="302.9" y2="631.7" stroke="#1ee832" stroke-width="2.6"/>
<line x1="77.4" y1="532.9" x2="302.9" y2="628.7" stroke="#0a00c8" stroke-width="2.6"/>
<line x1="77.4" y1="532.6" x2="302.9" y2="633.2" stroke="#28e8e2" stroke-width="2.6"/>
<rect x="402" y="527" width="271" height="1" fill="#000"/>
<rect x="402" y="650" width="271" height="1" fill="#000"/>
<rect x="402" y="527" width="1" height="124" fill="#000"/>
<rect x="672" y="527" width="1" height="124" fill="#000"/>
<rect x="402" y="527" width="6" height="1" fill="#000"/>
<rect x="666" y="527" width="7" height="1" fill="#000"/>
<rect x="402" y="538" width="6" height="1" fill="#000"/>
<rect x="666" y="538" width="7" height="1" fill="#000"/>
<rect x="402" y="550" width="6" height="1" fill="#000"/>
<rect x="666" y="550" width="7" height="1" fill="#000"/>
<rect x="402" y="561" width="6" height="1" fill="#000"/>
<rect x="666" y="561" width="7" height="1" fill="#000"/>
<rect x="402" y="572" width="12" height="1" fill="#000"/>
<rect x="660" y="572" width="13" height="1" fill="#000"/>
<rect x="402" y="583" width="6" height="1" fill="#000"/>
<rect x="666" y="583" width="7" height="1" fill="#000"/>
<rect x="402" y="595" width="6" height="1" fill="#000"/>
<rect x="666" y="595" width="7" height="1" fill="#000"/>
<rect x="402" y="606" width="6" height="1" fill="#000"/>
<rect x="666" y="606" width="7" height="1" fill="#000"/>
<rect x="402" y="617" width="6" height="1" fill="#000"/>
<rect x="666" y="617" width="7" height="1" fill="#000"/>
<rect x="402" y="628" width="12" height="1" fill="#000"/>
<rect x="660" y="628" width="13" height="1" fill="#000"/>
<rect x="402" y="640" width="6" height="1" fill="#000"/>
<rect x="666" y="640" width="7" height="1" fill="#000"/>
<rect x="413" y="527" width="1" height="7" fill="#000"/>
<rect x="413" y="645" width="1" height="6" fill="#000"/>
<rect x="424" y="527" width="1" height="13" fill="#000"/>
<rect x="424" y="639" width="1" height="12" fill="#000"/>
<rect x="436" y="527" width="1" height="7" fill="#000"/>
<rect x="436" y="645" width="1" height="6" fill="#000"/>
<rect x="447" y="527" width="1" height="7" fill="#000"/>
<rect x="447" y="645" width="1" height="6" fill="#000"/>
<rect x="459" y="527" width="1" height="7" fill="#000"/>
<rect x="459" y="645" width="1" height="6" fill="#000"/>
<rect x="470" y="527" width="1" height="7" fill="#000"/>
<rect x="470" y="645" width="1" height="6" fill="#000"/>
<rect x="482" y="527" width="1" height="13" fill="#000"/>
<rect x="482" y="639" width="1" height="12" fill="#000"/>
<rect x="493" y="527" width="1" height="7" fill="#000"/>
<rect x="493" y="645" width="1" height="6" fill="#000"/>
<rect x="505" y="527" width="1" height="7" fill="#000"/>
<rect x="505" y="645" width="1" height="6" fill="#000"/>
<rect x="516" y="527" width="1" height="7" fill="#000"/>
<rect x="516" y="645" width="1" height="6" fill="#000"/>
<rect x="528" y="527" width="1" height="7" fill="#000"/>
<rect x="528" y="645" width="1" height="6" fill="#000"/>
<rect x="540" y="527" width="1" height="13" fill="#000"/>
<rect x="540" y="639" width="1" height="12" fill="#000"/>
<rect x="551" y="527" width="1" height="7" fill="#000"/>
<rect x="551" y="645" width="1" height="6" fill="#000"/>
<rect x="562" y="527" width="1" height="7" fill="#000"/>
<rect x="562" y="645" width="1" height="6" fill="#000"/>
<rect x="574" y="527" width="1" height="7" fill="#000"/>
<rect x="574" y="645" width="1" height="6" fill="#000"/>
<rect x="585" y="527" width="1" height="7" fill="#000"/>
<rect x="585" y="645" width="1" height="6" fill="#000"/>
<rect x="597" y="527" width="1" height="13" fill="#000"/>
<rect x="597" y="639" width="1" height="12" fill="#000"/>
<rect x="608" y="527" width="1" height="7" fill="#000"/>
<rect x="608" y="645" width="1" height="6" fill="#000"/>
<rect x="620" y="527" width="1" height="7" fill="#000"/>
<rect x="620" y="645" width="1" height="6" fill="#000"/>
<rect x="631" y="527" width="1" height="7" fill="#000"/>
<rect x="631" y="645" width="1" height="6" fill="#000"/>
<rect x="643" y="527" width="1" height="7" fill="#000"/>
<rect x="643" y="645" width="1" height="6" fill="#000"/>
<rect x="654" y="527" width="1" height="13" fill="#000"/>
<rect x="654" y="639" width="1" height="12" fill="#000"/>
<rect x="666" y="527" width="1" height="7" fill="#000"/>
<rect x="666" y="645" width="1" height="6" fill="#000"/>
<polyline points="424.50,532.60 458.44,547.69 477.68,556.31 496.92,565.06 516.15,573.95 535.39,582.97 554.62,592.12 573.86,601.41 593.09,610.83 612.33,620.39 631.56,630.08 650.80,639.90" fill="none" stroke="#000000" stroke-width="2.6"/>
<line x1="424.5" y1="530.3" x2="650.8" y2="628.7" stroke="#d8000c" stroke-width="2.6"/>
<line x1="424.5" y1="530.2" x2="650.8" y2="631.4" stroke="#1ee832" stroke-width="2.6"/>
<line x1="424.5" y1="532.9" x2="650.8" y2="628.7" stroke="#0a00c8" stroke-width="2.6"/>
<line x1="424.5" y1="532.6" x2="650.8" y2="633.2" stroke="#28e8e2" stroke-width="2.6"/>
<rect x="54" y="650" width="271" height="1" fill="#000"/>
<rect x="54" y="773" width="271" height="1" fill="#000"/>
<rect x="54" y="650" width="1" height="124" fill="#000"/>
<rect x="324" y="650" width="1" height="124" fill="#000"/>
<rect x="54" y="651" width="7" height="1" fill="#000"/>
<rect x="319" y="651" width="6" height="1" fill="#000"/>
<rect x="54" y="662" width="7" height="1" fill="#000"/>
<rect x="319" y="662" width="6" height="1" fill="#000"/>
<rect x="54" y="673" width="7" height="1" fill="#000"/>
<rect x="319" y="673" width="6" height="1" fill="#000"/>
<rect x="54" y="684" width="7" height="1" fill="#000"/>
<rect x="319" y="684" width="6" height="1" fill="#000"/>
<rect x="54" y="696" width="13" height="1" fill="#000"/>
<rect x="313" y="696" width="12" height="1" fill="#000"/>
<rect x="54" y="707" width="7" height="1" fill="#000"/>
<rect x="319" y="707" width="6" height="1" fill="#000"/>
<rect x="54" y="718" width="7" height="1" fill="#000"/>
<rect x="319" y="718" width="6" height="1" fill="#000"/>
<rect x="54" y="729" width="7" height="1" fill="#000"/>
<rect x="319" y="729" width="6" height="1" fill="#000"/>
<rect x="54" y="741" width="7" height="1" fill="#000"/>
<rect x="319" y="741" width="6" height="1" fill="#000"/>
<rect x="54" y="752" width="13" height="1" fill="#000"/>
<rect x="313" y="752" width="12" height="1" fill="#000"/>
<rect x="54" y="763" width="7" height="1" fill="#000"/>
<rect x="319" y="763" width="6" height="1" fill="#000"/>
<rect x="65" y="650" width="1" height="7" fill="#000"/>
<rect x="65" y="768" width="1" height="6" fill="#000"/>
<rect x="77" y="650" width="1" height="13" fill="#000"/>
<rect x="77" y="762" width="1" height="12" fill="#000"/>
<rect x="88" y="650" width="1" height="7" fill="#000"/>
<rect x="88" y="768" width="1" height="6" fill="#000"/>
<rect x="100" y="650" width="1" height="7" fill="#000"/>
<rect x="100" y="768" width="1" height="6" fill="#000"/>
<rect x="111" y="650" width="1" height="7" fill="#000"/>
<rect x="111" y="768" width="1" height="6" fill="#000"/>
<rect x="123" y="650" width="1" height="7" fill="#000"/>
<rect x="123" y="768" width="1" height="6" fill="#000"/>
<rect x="135" y="650" width="1" height="13" fill="#000"/>
<rect x="135" y="762" width="1" height="12" fill="#000"/>
<rect x="146" y="650" width="1" height="7" fill="#000"/>
<rect x="146" y="768" width="1" height="6" fill="#000"/>
<rect x="157" y="650" width="1" height="7" fill="#000"/>
<rect x="157" y="768" width="1" height="6" fill="#000"/>
<rect x="169" y="650" width="1" height="7" fill="#000"/>
<rect x="169" y="768" width="1" height="6" fill="#000"/>
<rect x="180" y="650" width="1" height="7" fill="#000"/>
<rect x="180" y="768" width="1" height="6" fill="#000"/>
<rect x="192" y="650" width="1" height="13" fill="#000"/>
<rect x="192" y="762" width="1" height="12" fill="#000"/>
<rect x="203" y="650" width="1" height="7" fill="#000"/>
<rect x="203" y="768" width="1" height="6" fill="#000"/>
<rect x="215" y="650" width="1" height="7" fill="#000"/>
<rect x="215" y="768" width="1" height="6" fill="#000"/>
<rect x="226" y="650" width="1" height="7" fill="#000"/>
<rect x="226" y="768" width="1" height="6" fill="#000"/>
<rect x="238" y="650" width="1" height="7" fill="#000"/>
<rect x="238" y="768" width="1" height="6" fill="#000"/>
<rect x="250" y="650" width="1" height="13" fill="#000"/>
<rect x="250" y="762" width="1" height="12" fill="#000"/>
<rect x="261" y="650" width="1" height="7" fill="#000"/>
<rect x="261" y="768" width="1" height="6" fill="#000"/>
<rect x="272" y="650" width="1" height="7" fill="#000"/>
<rect x="272" y="768" width="1" height="6" fill="#000"/>
<rect x="284" y="650" width="1" height="7" fill="#000"/>
<rect x="284" y="768" width="1" height="6" fill="#000"/>
<rect x="295" y="650" width="1" height="7" fill="#000"/>
<rect x="295" y="768" width="1" height="6" fill="#000"/>
<rect x="307" y="650" width="1" height="13" fill="#000"/>
<rect x="307" y="762" width="1" height="12" fill="#000"/>
<rect x="318" y="650" width="1" height="7" fill="#000"/>
<rect x="318" y="768" width="1" height="6" fill="#000"/>
</g>
<text class="t20" x="99" y="132" textLength="239.5" lengthAdjust="spacingAndGlyphs">Energy Spread (per mil) vs e</text>
<text x="338.6" y="121.3" style="font-size:15px">+</text>
<text class="t20" x="353.5" y="132" textLength="276.2" lengthAdjust="spacingAndGlyphs">Current (mA/bunch) for Job 464</text>
<text class="t16" x="622.6" y="108.8" textLength="57.5" lengthAdjust="spacingAndGlyphs">04/11/10</text>
<text class="t16" x="693.2" y="108.8" textLength="37" lengthAdjust="spacingAndGlyphs">10.16</text>
<rect x="441" y="680" width="39" height="2" fill="#000000" shape-rendering="crispEdges"/>
<text class="t16" x="501.5" y="686.3" style="fill:#000000;stroke:#000000" textLength="116.7" lengthAdjust="spacingAndGlyphs">Electron bunch 1</text>
<rect x="441" y="704" width="39" height="2" fill="#d4000c" shape-rendering="crispEdges"/>
<text class="t16" x="501.5" y="709.6" style="fill:#d8000c;stroke:#d8000c" textLength="116.7" lengthAdjust="spacingAndGlyphs">Electron bunch 2</text>
<rect x="441" y="727" width="39" height="2" fill="#30cc38" shape-rendering="crispEdges"/>
<text class="t16" x="501.5" y="733.0" style="fill:#1ee832;stroke:#1ee832" textLength="116.7" lengthAdjust="spacingAndGlyphs">Electron bunch 3</text>
<rect x="441" y="750" width="39" height="2" fill="#0800c0" shape-rendering="crispEdges"/>
<text class="t16" x="501.5" y="756.3" style="fill:#0a00c8;stroke:#0a00c8" textLength="116.7" lengthAdjust="spacingAndGlyphs">Electron bunch 4</text>
<rect x="441" y="773" width="39" height="2" fill="#44dadc" shape-rendering="crispEdges"/>
<text class="t16" x="501.5" y="779.7" style="fill:#28e8e2;stroke:#28e8e2" textLength="116.7" lengthAdjust="spacingAndGlyphs">Electron bunch 5</text>
</svg></body></html>
